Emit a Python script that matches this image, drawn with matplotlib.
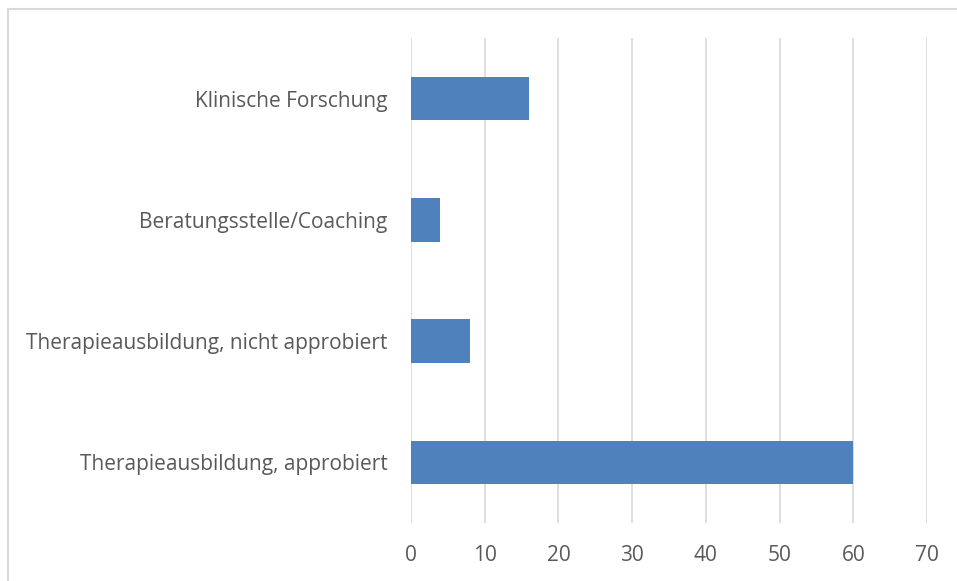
import matplotlib
matplotlib.use("Agg")
import matplotlib.pyplot as plt
from matplotlib.patches import Rectangle

categories = [
    "Therapieausbildung, approbiert",
    "Therapieausbildung, nicht approbiert",
    "Beratungsstelle/Coaching",
    "Klinische Forschung",
]
values = [60, 8, 4, 16]
xticks = [0, 10, 20, 30, 40, 50, 60, 70]

plt.rcParams["font.family"] = ["Open Sans", "DejaVu Sans"]

W, H = 957, 581
fig = plt.figure(figsize=(W / 100, H / 100), dpi=100)
ax = fig.add_axes([411 / W, 1 - 523 / H, (927 - 411) / W, (523 - 38) / H])

ax.barh(range(len(categories)), values, height=0.36, color="#4F81BD", zorder=3)
ax.set_ylim(-0.5, len(categories) - 0.5)
ax.set_xlim(0, 70)
ax.set_xticks(xticks)
ax.set_yticks(range(len(categories)))
ax.set_yticklabels(categories)
ax.grid(axis="x", color="#D9D9D9", linewidth=1.2, zorder=0)
ax.tick_params(axis="both", length=0, labelsize=15, colors="#595959")
ax.tick_params(axis="y", pad=17)
ax.tick_params(axis="x", pad=16)
for s in ax.spines.values():
    s.set_visible(False)

# light frame around the chart (cut off at right/bottom)
fig.patches.append(Rectangle((8 / W, -0.1), 1.2, 1 - 9 / H + 0.1,
                             transform=fig.transFigure, fill=False,
                             edgecolor="#D9D9D9", linewidth=1.5))

fig.savefig("out.png", dpi=100)
